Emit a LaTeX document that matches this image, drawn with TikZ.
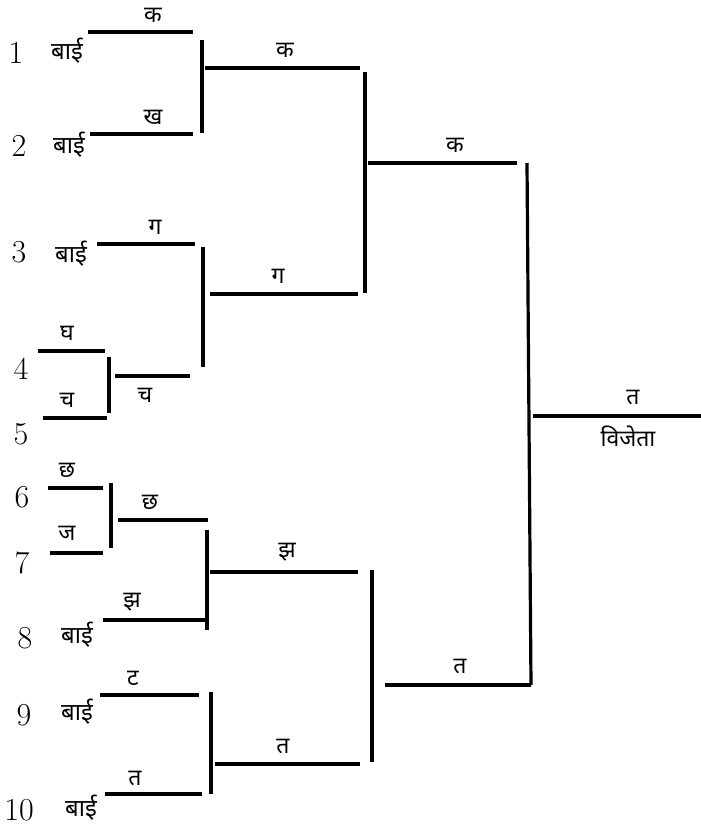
\documentclass[tikz,border=0pt]{standalone}
\usepackage{fontspec}
\newfontfamily\dev[Script=Devanagari]{Noto Sans}
\begin{document}
\begin{tikzpicture}[x=1pt,y=-1pt,
  num/.style={font=\fontsize{32}{33}\selectfont,inner sep=0pt},
  bai/.style={font=\dev\fontsize{24}{25}\selectfont,inner sep=0pt},
  lab/.style={font=\dev\fontsize{23}{24}\selectfont,inner sep=0pt},
  bar/.style={line width=3.2pt}]
\useasboundingbox (0,0) rectangle (701,827);
% player numbers
\node[num] (n1) at (16,53) {1};
\node[num] (n2) at (19,146) {2};
\node[num] (n3) at (19,252) {3};
\node[num] (n4) at (21,369) {4};
\node[num] (n5) at (21,434) {5};
\node[num] (n6) at (22,497) {6};
\node[num] (n7) at (22,563) {7};
\node[num] (n8) at (25,638) {8};
\node[num] (n9) at (24,715) {9};
\node[num] (n10) at (19,810) {10};
% byes
\node[bai] (b1) at (67,51) {बाई};
\node[bai] (b2) at (69,145) {बाई};
\node[bai] (b3) at (71,254) {बाई};
\node[bai] (b8) at (77,635) {बाई};
\node[bai] (b9) at (77,712) {बाई};
\node[bai] (b10) at (81,808) {बाई};
% first lines
\coordinate (a1) at (88,32);  \coordinate (a1e) at (193,32);
\coordinate (a2) at (90,134); \coordinate (a2e) at (193,134);
\coordinate (a3) at (97,244); \coordinate (a3e) at (195,244);
\coordinate (a4) at (38,351); \coordinate (a4e) at (105,351);
\coordinate (a5) at (43,418); \coordinate (a5e) at (107,418);
\coordinate (a6) at (48,488); \coordinate (a6e) at (103,488);
\coordinate (a7) at (50,553); \coordinate (a7e) at (103,553);
\coordinate (a8) at (103,620); \coordinate (a8e) at (205,620);
\coordinate (a9) at (100,695); \coordinate (a9e) at (199,695);
\coordinate (a10) at (105,794); \coordinate (a10e) at (202,794);
\foreach \i in {1,...,10} {\draw[bar] (a\i) -- (a\i e);}
\node[lab] (l1) at (153,15) {क};
\node[lab] (l2) at (153,117) {ख};
\node[lab] (l3) at (155,227) {ग};
\node[lab] (l4) at (67,333) {घ};
\node[lab] (l5) at (67,400) {च};
\node[lab] (l6) at (67,470) {छ};
\node[lab] (l7) at (67,533) {ज};
\node[lab] (l8) at (132,602) {झ};
\node[lab] (l9) at (133,678) {ट};
\node[lab] (l10) at (135,778) {त};
% first brackets (4-5, 6-7)
\draw[bar] (109,357) coordinate (v45t) -- (109,413) coordinate (v45b);
\draw[bar] (111,483) coordinate (v67t) -- (111,548) coordinate (v67b);
\draw[bar] (115,376) coordinate (c1) -- (190,376) coordinate (c1e);
\draw[bar] (118,520) coordinate (c2) -- (208,520) coordinate (c2e);
\node[lab] (lc1) at (145,395) {च};
\node[lab] (lc2) at (150,502) {छ};
% second-level brackets
\draw[bar] (202,40) coordinate (v12t) -- (202,133) coordinate (v12b);
\draw[bar] (203,247) coordinate (v3t) -- (203,367) coordinate (v3b);
\draw[bar] (207,530) coordinate (v8t) -- (207,630) coordinate (v8b);
\draw[bar] (211,692) coordinate (v9t) -- (211,794) coordinate (v9b);
\draw[bar] (205,68) coordinate (r1) -- (360,68) coordinate (r1e);
\draw[bar] (210,294) coordinate (r2) -- (358,294) coordinate (r2e);
\draw[bar] (210,572) coordinate (r3) -- (358,572) coordinate (r3e);
\draw[bar] (215,764) coordinate (r4) -- (360,764) coordinate (r4e);
\node[lab] (lr1) at (285,50) {क};
\node[lab] (lr2) at (278,276) {ग};
\node[lab] (lr3) at (287,552) {झ};
\node[lab] (lr4) at (283,746) {त};
% third-level brackets
\draw[bar] (365,72) coordinate (w1t) -- (365,293) coordinate (w1b);
\draw[bar] (372,570) coordinate (w2t) -- (372,762) coordinate (w2b);
\draw[bar] (368,163) coordinate (s1) -- (517,163) coordinate (s1e);
\draw[bar] (385,685) coordinate (s2) -- (531,685) coordinate (s2e);
\node[lab] (ls1) at (455,145) {क};
\node[lab] (ls2) at (460,666) {त};
% final
\draw[bar] (527,163) coordinate (ft) -- (s2e);
\draw[bar] (533,416) coordinate (f) -- (701,416) coordinate (fe);
\node[lab] (lf) at (633,398) {त};
\node[lab] (win) at (628,436) {विजेता};
\end{tikzpicture}
\end{document}
